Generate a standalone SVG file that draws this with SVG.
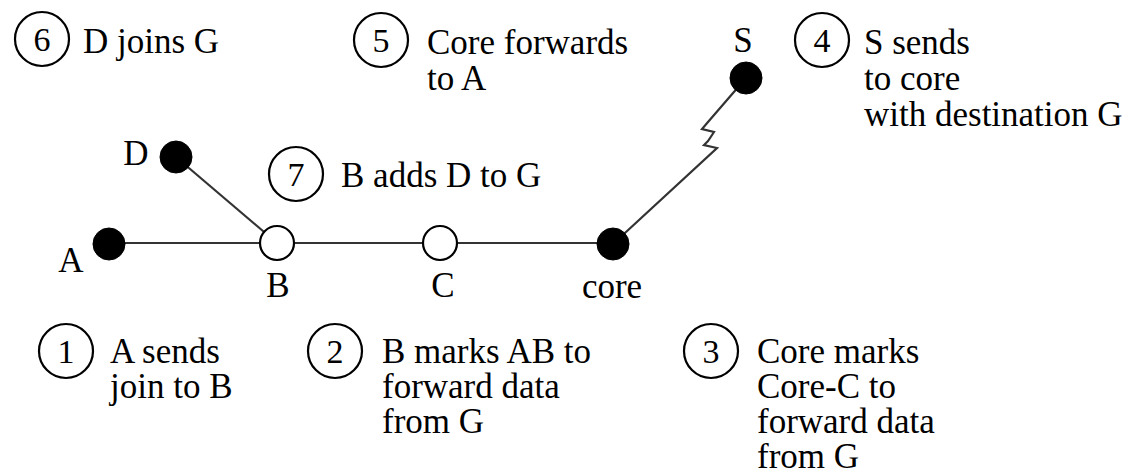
<svg xmlns="http://www.w3.org/2000/svg" width="1128" height="472" viewBox="0 0 1128 472">
<style>
text{font-family:"Liberation Serif","Times New Roman",serif;fill:#000}
.t{font-size:35px}
.n{font-size:34px;text-anchor:middle}
.lbl{font-size:35px;text-anchor:middle}
.step{fill:none;stroke:#000;stroke-width:2.2}
.edge{fill:none;stroke:#333;stroke-width:2.2}
.full{fill:#000;stroke:#000;stroke-width:1}
.open{fill:#fff;stroke:#000;stroke-width:2.2}
</style>
<rect width="1128" height="472" fill="#fff"/>
<g id="connectors">
<line class="edge" x1="109" y1="243" x2="277" y2="243"/>
<line class="edge" x1="277" y1="243" x2="440" y2="243"/>
<line class="edge" x1="440" y1="243" x2="613" y2="243"/>
<line class="edge" x1="176" y1="157" x2="277" y2="243"/>
<polyline class="edge" points="613,244 717,148 704,145 708,141 714,132 702,129 708,122 746,78"/>
</g>
<g id="node-A"><circle class="full" cx="109" cy="244" r="16"/><text class="lbl" x="71" y="272">A</text></g>
<g id="node-D"><circle class="full" cx="176" cy="157" r="16"/><text class="lbl" x="136" y="165">D</text></g>
<g id="node-B"><circle class="open" cx="277" cy="243" r="17"/><text class="lbl" x="278" y="297">B</text></g>
<g id="node-C"><circle class="open" cx="440" cy="243" r="17"/><text class="lbl" x="443" y="297">C</text></g>
<g id="node-core"><circle class="full" cx="613" cy="244" r="16"/><text class="lbl" x="612" y="298">core</text></g>
<g id="node-S"><circle class="full" cx="746" cy="78" r="16"/><text class="lbl" x="743" y="52">S</text></g>
<g id="step-6"><circle class="step" cx="42" cy="39" r="27"/><text class="n" x="42" y="51">6</text><text class="t" x="83" y="53">D joins G</text></g>
<g id="step-5"><circle class="step" cx="381" cy="40" r="27"/><text class="n" x="381" y="52">5</text><text class="t" x="427" y="54">Core forwards<tspan x="427" dy="36">to A</tspan></text></g>
<g id="step-4"><circle class="step" cx="822" cy="40" r="27"/><text class="n" x="822" y="52">4</text><text class="t" x="864" y="54">S sends<tspan x="864" dy="36">to core</tspan><tspan x="864" dy="36">with destination G</tspan></text></g>
<g id="step-7"><circle class="step" cx="296" cy="174" r="27"/><text class="n" x="296" y="186">7</text><text class="t" x="341" y="187">B adds D to G</text></g>
<g id="step-1"><circle class="step" cx="66" cy="351" r="27"/><text class="n" x="66" y="363">1</text><text class="t" x="110" y="363">A sends<tspan x="110" dy="35">join to B</tspan></text></g>
<g id="step-2"><circle class="step" cx="335" cy="351" r="27"/><text class="n" x="335" y="363">2</text><text class="t" x="382" y="363">B marks AB to<tspan x="382" dy="35">forward data</tspan><tspan x="382" dy="35">from G</tspan></text></g>
<g id="step-3"><circle class="step" cx="711" cy="351" r="27"/><text class="n" x="711" y="363">3</text><text class="t" x="757" y="363">Core marks<tspan x="757" dy="35">Core-C to</tspan><tspan x="757" dy="35">forward data</tspan><tspan x="757" dy="35">from G</tspan></text></g>
</svg>
